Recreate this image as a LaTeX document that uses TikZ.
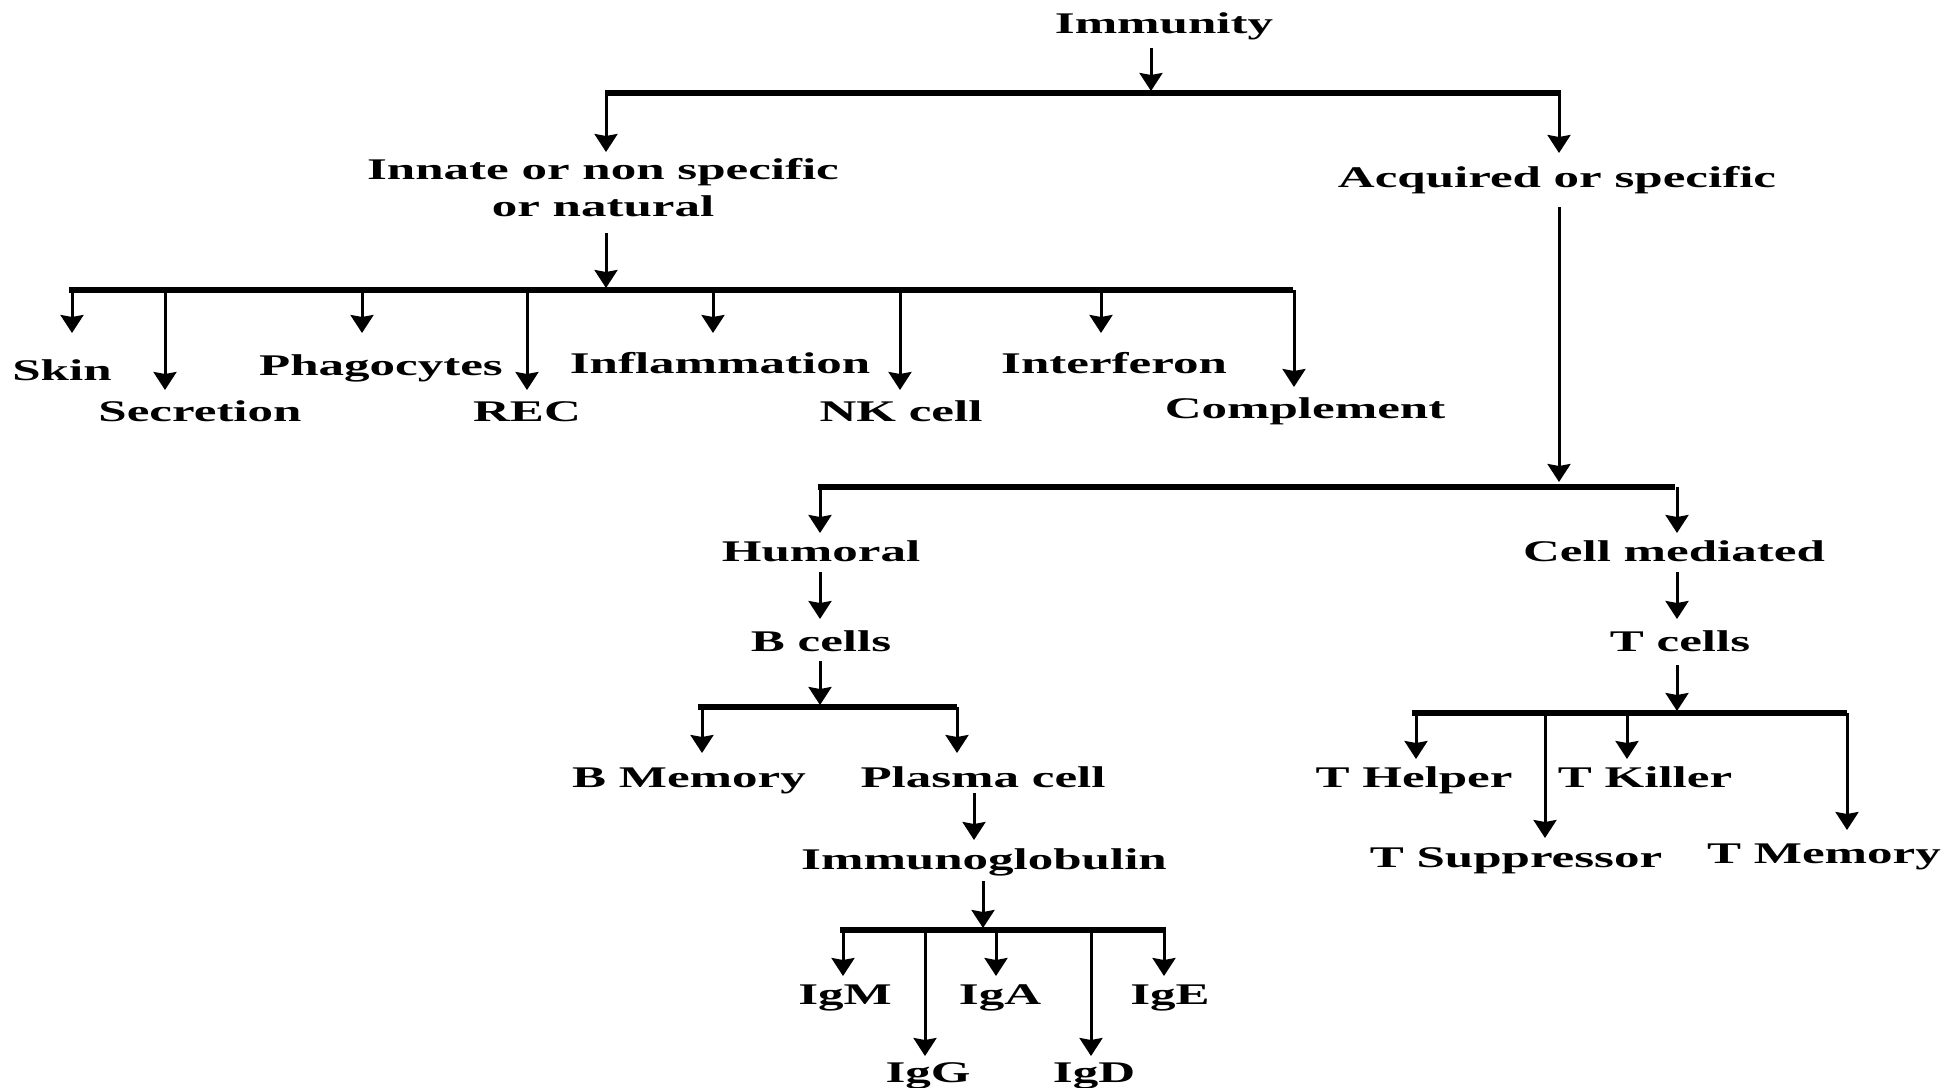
\documentclass[tikz,border=0pt]{standalone}
\usepackage{fontspec}
\usetikzlibrary{arrows.meta}
\newfontfamily\lblfont{Liberation Serif}[FakeStretch=1.70]
\begin{document}
\begin{tikzpicture}[x=1pt,y=-1pt,
  lbl/.style={anchor=base, inner sep=0pt, font=\lblfont\bfseries\fontsize{30}{36}\selectfont},
  arr/.style={-{Stealth[length=18pt,width=23pt,inset=2pt]}, line width=3pt},
  barline/.style={line width=5.5pt}]
\fill[white] (0,0) rectangle (1959,1087);
\useasboundingbox (0,0) rectangle (1959,1087);

% ---- labels ----
\node[lbl] (imm) at (1164,33) {Immunity};
\node[lbl] (innA) at (603,179) {Innate or non specific};
\node[lbl] (innB) at (603,216) {or natural};
\node[lbl] (acq) at (1557,187) {Acquired or specific};
\node[lbl] (skin) at (62,380) {Skin};
\node[lbl] (phago) at (381,375) {Phagocytes};
\node[lbl] (infl) at (720,373) {Inflammation};
\node[lbl] (interf) at (1114,373) {Interferon};
\node[lbl] (secr) at (200,421) {Secretion};
\node[lbl] (rec) at (527,421) {REC};
\node[lbl] (nk) at (901,421) {NK cell};
\node[lbl] (compl) at (1305,418) {Complement};
\node[lbl] (hum) at (821,561) {Humoral};
\node[lbl] (cellm) at (1674,561) {Cell mediated};
\node[lbl] (bcells) at (821,651) {B cells};
\node[lbl] (tcells) at (1680,651) {T cells};
\node[lbl] (bmem) at (689,787) {B Memory};
\node[lbl] (plasma) at (983,787) {Plasma cell};
\node[lbl] (thelp) at (1414,787) {T Helper};
\node[lbl] (tkill) at (1645,787) {T Killer};
\node[lbl] (immg) at (984,869) {Immunoglobulin};
\node[lbl] (tsupp) at (1516,867) {T Suppressor};
\node[lbl] (tmem) at (1824,863) {T Memory};
\node[lbl] (igm) at (845,1004) {IgM};
\node[lbl] (iga) at (1000,1004) {IgA};
\node[lbl] (ige) at (1170,1004) {IgE};
\node[lbl] (igg) at (928,1082) {IgG};
\node[lbl] (igd) at (1094,1082) {IgD};

% ---- bars ----
\coordinate (bTopL) at (605,93);   \coordinate (bTopR) at (1561,93);
\coordinate (bInL) at (69,290);    \coordinate (bInR) at (1293,290);
\coordinate (bAqL) at (818,487);   \coordinate (bAqR) at (1675,487);
\coordinate (bBL) at (698,707);    \coordinate (bBR) at (957,707);
\coordinate (bIgL) at (840,930);   \coordinate (bIgR) at (1166,930);
\coordinate (bTL) at (1412,713);   \coordinate (bTR) at (1847,713);
\draw[barline] (bTopL) -- (bTopR);
\draw[barline] (bInL) -- (bInR);
\draw[barline] (bAqL) -- (bAqR);
\draw[barline] (bBL) -- (bBR);
\draw[barline] (bIgL) -- (bIgR);
\draw[barline] (bTL) -- (bTR);

% ---- arrows into bars ----
\coordinate (sImm) at (1151,48);   \coordinate (eImm) at (1151,91);
\coordinate (sInn) at (606,233);   \coordinate (eInn) at (606,288);
\coordinate (sAcq) at (1559,207);  \coordinate (eAcq) at (1559,482);
\coordinate (sBc) at (820,661);    \coordinate (eBc) at (820,705);
\coordinate (sImg) at (983,881);   \coordinate (eImg) at (983,928);
\coordinate (sTc) at (1677,665);   \coordinate (eTc) at (1677,711);
\draw[arr] (sImm) -- (eImm);
\draw[arr] (sInn) -- (eInn);
\draw[arr] (sAcq) -- (eAcq);
\draw[arr] (sBc) -- (eBc);
\draw[arr] (sImg) -- (eImg);
\draw[arr] (sTc) -- (eTc);

% ---- single arrows between labels ----
\coordinate (sHum) at (820,572);   \coordinate (eHum) at (820,619);
\coordinate (sCm) at (1677,572);   \coordinate (eCm) at (1677,619);
\coordinate (sPl) at (974,793);    \coordinate (ePl) at (974,840);
\draw[arr] (sHum) -- (eHum);
\draw[arr] (sCm) -- (eCm);
\draw[arr] (sPl) -- (ePl);

% ---- drops from bars (tips) ----
\coordinate (dInn) at (606,152);  \coordinate (dAcq) at (1559,153);
\draw[arr] (dInn |- bTopL) -- (dInn);
\draw[arr] (dAcq |- bTopL) -- (dAcq);

\coordinate (dSkin) at (72,333);
\coordinate (dSecr) at (165,390);
\coordinate (dPhago) at (362,333);
\coordinate (dRec) at (527,390);
\coordinate (dInfl) at (713,333);
\coordinate (dNk) at (900,390);
\coordinate (dInterf) at (1101,333);
\coordinate (dCompl) at (1294,387);
\foreach \d in {dSkin,dSecr,dPhago,dRec,dInfl,dNk,dInterf,dCompl}
  \draw[arr] (\d |- bInL) -- (\d);

\coordinate (dHum) at (820,533);  \coordinate (dCellm) at (1677,533);
\draw[arr] (dHum |- bAqL) -- (dHum);
\draw[arr] (dCellm |- bAqL) -- (dCellm);

\coordinate (dBmem) at (702,753); \coordinate (dPlasma) at (957,753);
\draw[arr] (dBmem |- bBL) -- (dBmem);
\draw[arr] (dPlasma |- bBL) -- (dPlasma);

\coordinate (dIgm) at (843,976);
\coordinate (dIgg) at (925,1056);
\coordinate (dIga) at (996,976);
\coordinate (dIgd) at (1091,1056);
\coordinate (dIge) at (1164,976);
\foreach \d in {dIgm,dIgg,dIga,dIgd,dIge}
  \draw[arr] (\d |- bIgL) -- (\d);

\coordinate (dThelp) at (1416,759);
\coordinate (dTsupp) at (1545,838);
\coordinate (dTkill) at (1627,759);
\coordinate (dTmem) at (1847,830);
\foreach \d in {dThelp,dTsupp,dTkill,dTmem}
  \draw[arr] (\d |- bTL) -- (\d);
\end{tikzpicture}
\end{document}
